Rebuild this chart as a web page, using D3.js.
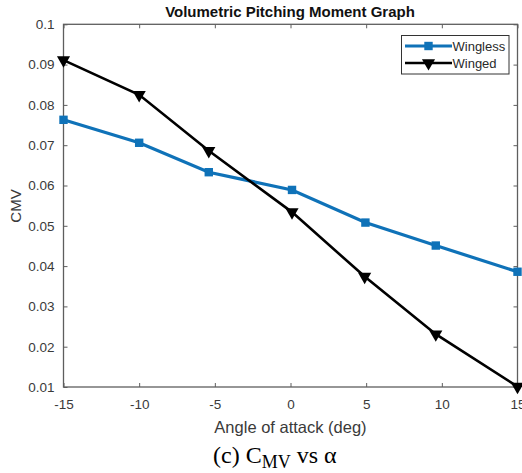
<!DOCTYPE html>
<html>
<head>
<meta charset="utf-8">
<script src="https://cdn.jsdelivr.net/npm/d3@7"></script>
<style>
  html, body { margin: 0; padding: 0; background: #fff; }
  svg { display: block; }
</style>
</head>
<body>
<svg id="chart" width="522" height="473"></svg>
<script>
// Angle of attack (deg) for each measurement
const anglesWingless = [-15, -10, -5.4, 0.1, 4.95, 9.6, 15];
const anglesWinged   = [-15, -10, -5.4, 0.1, 4.9, 9.6, 15];
// Volumetric pitching moment coefficient
const cmvWingless = [0.0763, 0.0706, 0.0633, 0.0589, 0.0508, 0.0451, 0.0386];
const cmvWinged   = [0.0911, 0.0825, 0.0686, 0.0534, 0.0374, 0.0231, 0.0101];
const seriesNames = ["Wingless", "Winged"];
const xTicks = [-15, -10, -5, 0, 5, 10, 15];
const yTicks = [0.01, 0.02, 0.03, 0.04, 0.05, 0.06, 0.07, 0.08, 0.09, 0.1];

const svg = d3.select("#chart");
const plotL = 63.5, plotR = 517.5, plotT = 24.3, plotB = 387;
const x = d3.scaleLinear().domain([-15, 15]).range([plotL, plotR]);
const y = d3.scaleLinear().domain([0.01, 0.1]).range([plotB, plotT]);

const axisColor = "#5e5e5e";
const tickText = "#3a3a3a";
const font = "'Liberation Sans', Arial, sans-serif";
const blue = "#0f72b8";

// box frame
svg.append("rect")
  .attr("x", plotL).attr("y", plotT)
  .attr("width", plotR - plotL).attr("height", plotB - plotT)
  .attr("fill", "none").attr("stroke", axisColor).attr("stroke-width", 1.3);

const fmtY = d => d === 0.1 ? "0.1" : d.toFixed(2);
const fmtX = d => String(d);

// bottom axis
const gx = svg.append("g").attr("transform", `translate(0,${plotB})`)
  .call(d3.axisBottom(x).tickValues(xTicks).tickSize(-4).tickPadding(12).tickFormat(fmtX));
// left axis
const gy = svg.append("g").attr("transform", `translate(${plotL},0)`)
  .call(d3.axisLeft(y).tickValues(yTicks).tickSize(-4).tickPadding(9).tickFormat(fmtY));
// mirrored ticks on top and right
const gxt = svg.append("g").attr("transform", `translate(0,${plotT})`)
  .call(d3.axisTop(x).tickValues(xTicks).tickSize(-4).tickFormat(""));
const gyr = svg.append("g").attr("transform", `translate(${plotR},0)`)
  .call(d3.axisRight(y).tickValues(yTicks).tickSize(-4).tickFormat(""));

[gx, gy, gxt, gyr].forEach(g => {
  g.select(".domain").remove();
  g.selectAll(".tick line").attr("stroke", axisColor).attr("stroke-width", 1);
  g.selectAll(".tick text").attr("fill", tickText)
    .style("font-family", font).style("font-size", "13.5px");
});

// lines
const line = (xs) => d3.line().x((d, i) => x(xs[i])).y(d => y(d));

svg.append("path").datum(cmvWingless)
  .attr("d", line(anglesWingless))
  .attr("fill", "none").attr("stroke", blue).attr("stroke-width", 3.2);

svg.append("path").datum(cmvWinged)
  .attr("d", line(anglesWinged))
  .attr("fill", "none").attr("stroke", "#000").attr("stroke-width", 2.6);

// markers
svg.append("g").selectAll("rect").data(cmvWingless).join("rect")
  .attr("x", (d, i) => x(anglesWingless[i]) - 4.2)
  .attr("y", d => y(d) - 4.2)
  .attr("width", 8.4).attr("height", 8.4)
  .attr("fill", blue);

const tri = d3.symbol().type(d3.symbolTriangle).size(75);
svg.append("g").selectAll("path").data(cmvWinged).join("path")
  .attr("d", tri)
  .attr("transform", (d, i) => `translate(${x(anglesWinged[i])},${y(d)}) rotate(180)`)
  .attr("fill", "#000");

// legend
const lg = svg.append("g");
lg.append("rect").attr("x", 401.5).attr("y", 35.5).attr("width", 107.5).attr("height", 38.5)
  .attr("fill", "#fff").attr("stroke", "#333").attr("stroke-width", 1);
const legendRows = [
  { name: seriesNames[0], color: blue, w: 3.2, ly: 46 },
  { name: seriesNames[1], color: "#000", w: 2.6, ly: 63 }
];
legendRows.forEach((r, i) => {
  lg.append("line").attr("x1", 405).attr("x2", 452).attr("y1", r.ly).attr("y2", r.ly)
    .attr("stroke", r.color).attr("stroke-width", r.w);
  if (i === 0) {
    lg.append("rect").attr("x", 428.5 - 4.2).attr("y", r.ly - 4.2).attr("width", 8.4).attr("height", 8.4)
      .attr("fill", r.color);
  } else {
    lg.append("path").attr("d", tri)
      .attr("transform", `translate(428.5,${r.ly}) rotate(180)`)
      .attr("fill", "#000");
  }
  lg.append("text").attr("x", 452.5).attr("y", r.ly + 4.5)
    .attr("fill", "#2a2a2a").style("font-family", font).style("font-size", "13px")
    .text(r.name);
});

// title
svg.append("text").attr("x", 290).attr("y", 16.5).attr("text-anchor", "middle")
  .style("font-family", font).style("font-size", "15px").style("font-weight", "bold")
  .attr("fill", "#111").text("Volumetric Pitching Moment Graph");

// axis labels
svg.append("text").attr("x", 290.5).attr("y", 432.5).attr("text-anchor", "middle")
  .style("font-family", font).style("font-size", "16.5px").attr("fill", "#3a3a3a")
  .text("Angle of attack (deg)");

svg.append("text").attr("transform", "translate(21,206) rotate(-90)").attr("text-anchor", "middle")
  .style("font-family", font).style("font-size", "15px").attr("fill", "#3a3a3a")
  .text("CMV");

// caption
const cap = svg.append("text").attr("x", 213).attr("y", 462.5).attr("text-anchor", "start")
  .style("font-family", "'Liberation Serif', 'Times New Roman', serif").style("font-size", "24px")
  .attr("fill", "#000");
cap.append("tspan").text("(c) C");
cap.append("tspan").attr("dy", 5).style("font-size", "18px").text("MV");
cap.append("tspan").attr("dy", -5).text(" vs α");
</script>
</body>
</html>
